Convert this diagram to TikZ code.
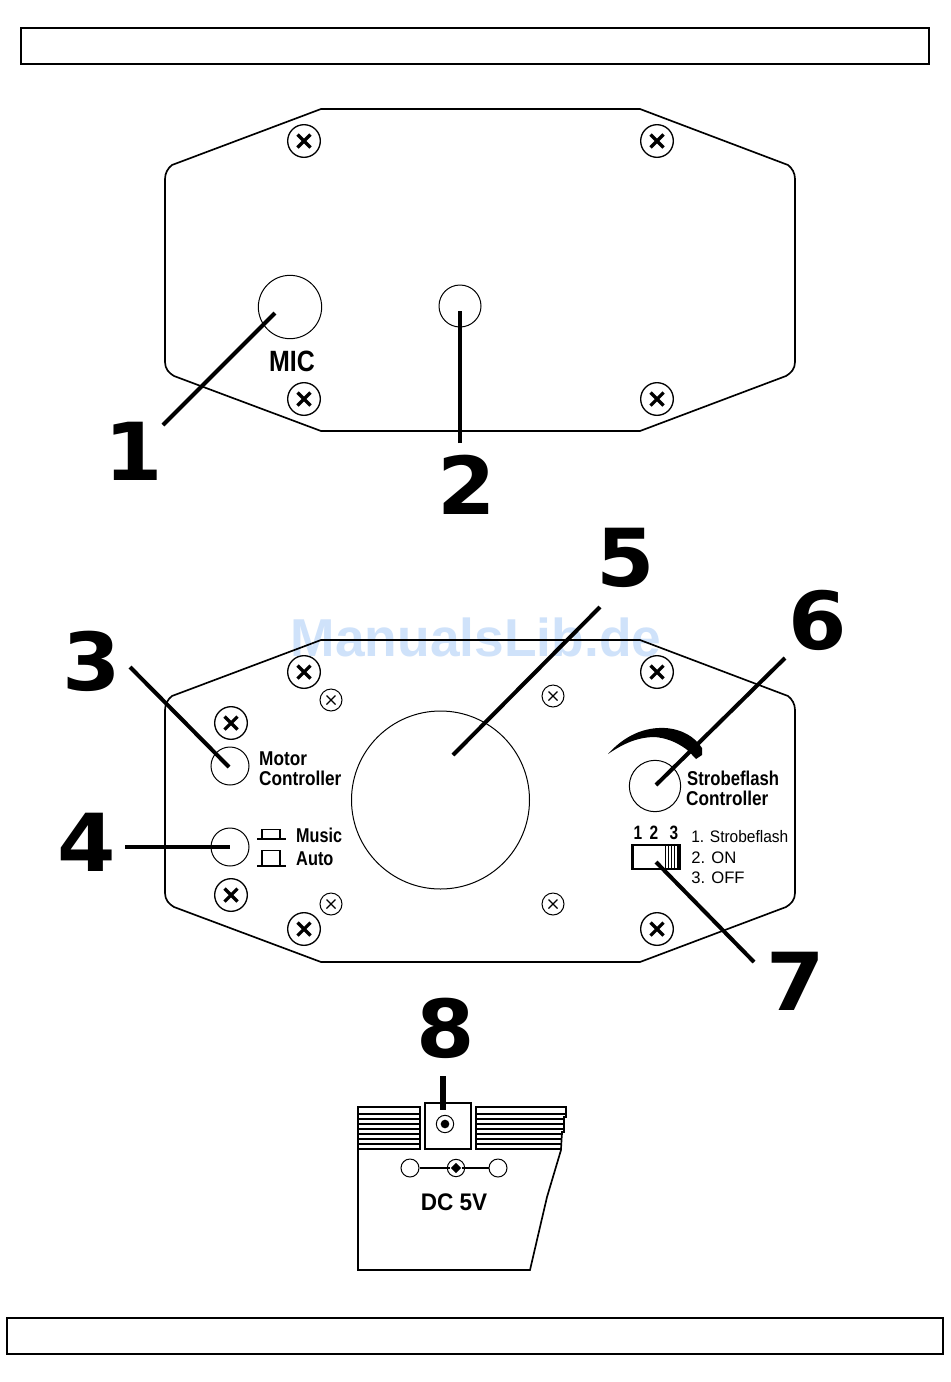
\documentclass[tikz,border=0pt]{standalone}
\usetikzlibrary{shapes.geometric}
\usepackage{fontspec}
\setmainfont{Liberation Sans}
\newfontfamily\numfont{DejaVu Sans}
\definecolor{wmblue}{HTML}{CFE2FA}
\begin{document}
\begin{tikzpicture}[x=0.75pt,y=-0.75pt,
  outline/.style={draw=black,line width=1.25pt},
  leader/.style={draw=black,line width=3pt},
  bignum/.style={font=\numfont\bfseries\fontsize{60}{60}\selectfont,inner sep=0pt,text=black,xscale=1.05},
  lab/.style={inner sep=0pt,anchor=west,text=black},
  blab/.style={lab,font=\fontsize{15}{15}\selectfont\bfseries,xscale=0.86},
  slab/.style={lab,font=\fontsize{12.5}{13}\selectfont},
  port/.style={circle,draw=black,line width=0.75pt,inner sep=0pt,fill=none},
  screwb/.style={circle,draw=black,line width=1pt,inner sep=0pt,minimum size=24.5pt},
  screws/.style={circle,draw=black,line width=0.75pt,inner sep=0pt,minimum size=16.5pt}]
\newcommand{\bigscrew}[3]{%
  \node[screwb] (#1) at (#2,#3) {};
  \draw[line width=2.4pt] (#2-6.5,#3-6.5) -- (#2+6.5,#3+6.5) (#2-6.5,#3+6.5) -- (#2+6.5,#3-6.5);}
\newcommand{\smallscrew}[3]{%
  \node[screws] (#1) at (#2,#3) {};
  \draw[line width=0.9pt] (#2-4.5,#3-4.5) -- (#2+4.5,#3+4.5) (#2-4.5,#3+4.5) -- (#2+4.5,#3-4.5);}
\newcommand{\plate}[1]{%
  \draw[outline] (321,109+#1) -- (640,109+#1) -- (788,165+#1)
    .. controls (792,168+#1) and (795,173+#1) .. (795,179+#1) -- (795,362+#1)
    .. controls (795,369+#1) and (791,373+#1) .. (786,376+#1)
    -- (640,431+#1) -- (321,431+#1) -- (174,376+#1)
    .. controls (169,373+#1) and (165,369+#1) .. (165,362+#1) -- (165,179+#1)
    .. controls (165,173+#1) and (168,168+#1) .. (172,165+#1) -- cycle;}
\useasboundingbox (0,0) rectangle (950,1382);
\fill[white] (0,0) rectangle (950,1382);
% header and footer bars
\node[draw=black,line width=1.3pt,minimum width=680.5pt,minimum height=26.5pt,inner sep=0pt] (header) at (475,46) {};
\node[draw=black,line width=1.3pt,minimum width=702pt,minimum height=26.5pt,inner sep=0pt] (footer) at (475,1336) {};
% upper plate
\plate{0}
\bigscrew{sa}{304}{141}\bigscrew{sb}{657}{141}\bigscrew{sc}{304}{399}\bigscrew{sd}{657}{399}
\node[port,minimum size=47.5pt] (mic) at (290,307) {};
\node[port,minimum size=31.5pt] (jack) at (460,306) {};
\node[inner sep=0pt,font=\fontsize{22}{22}\selectfont\bfseries,xscale=0.85] (miclabel) at (292,361) {MIC};
% watermark
\node[inner sep=0pt,font=\fontsize{40}{40}\selectfont\bfseries,text=wmblue] (wm) at (476,637) {ManualsLib.de};
% lower plate
\plate{531}
\bigscrew{se}{304}{672}\bigscrew{sf}{657}{672}\bigscrew{sg}{231}{723}\bigscrew{sh}{231}{895}
\bigscrew{si}{304}{929}\bigscrew{sj}{657}{929}
\smallscrew{ta}{331}{700}\smallscrew{tb}{553}{696}\smallscrew{tc}{331}{904}\smallscrew{td}{553}{904}
\node[port,minimum size=28.5pt] (motor) at (230,766) {};
\node[port,minimum size=28.5pt] (mode) at (230,847) {};
\node[port,minimum size=133.5pt] (lens) at (440.5,800) {};
\node[port,minimum size=38.5pt] (strobe) at (655,786) {};
\node[blab] (motorl) at (259,759) {Motor};
\node[blab] (ctrll) at (259,778) {Controller};
\node[blab,xscale=0.94] (musicl) at (296,835) {Music};
\node[blab,xscale=0.95] (autol) at (296,859) {Auto};
\node[blab,xscale=0.97] (strl) at (687,778) {Strobeflash};
\node[blab] (ctr2l) at (686,798) {Controller};
% push button symbols
\draw[line width=1.7pt] (257,839) -- (286,839) (257,866) -- (286,866);
\draw[line width=1.3pt] (262,839) -- (262,829.5) -- (280,829.5) -- (280,839);
\draw[line width=1.3pt] (262,866) -- (262,850.5) -- (280,850.5) -- (280,866);
% strobe arc
\fill[black] (608,754) .. controls (625,735) and (645,727) .. (665,728)
  .. controls (682,729) and (695,737) .. (702,748) -- (702,755) -- (696,759)
  .. controls (692,755) and (690,752) .. (686,749)
  .. controls (675,741) and (665,738) .. (655,737)
  .. controls (635,737) and (620,746) .. (608,754) -- cycle;
% switch
\node[draw=black,line width=2.1pt,minimum width=35.5pt,minimum height=18pt,inner sep=0pt] (switch) at (656,857) {};
\foreach \x in {665,668,671,674,677} \draw[line width=0.75pt] (\x,846) -- (\x,868);
\node[inner sep=0pt,font=\fontsize{14.5}{14.5}\selectfont\bfseries,xscale=0.8] (n1) at (638,833) {1};
\node[inner sep=0pt,font=\fontsize{14.5}{14.5}\selectfont\bfseries,xscale=0.8] (n2) at (654,833) {2};
\node[inner sep=0pt,font=\fontsize{14.5}{14.5}\selectfont\bfseries,xscale=0.8] (n3) at (674,833) {3};
\node[slab,xscale=0.93] (o1) at (691,837) {1. Strobeflash};
\node[slab] (o2) at (691,858) {2. ON};
\node[slab] (o3) at (691,878) {3. OFF};
% power section
\draw[outline] (358,1150) -- (358,1270) -- (530,1270)
  -- (540,1227) -- (547,1197) -- (561,1150);
\draw[outline] (358,1107) rectangle (420,1149);
\foreach \y in {1114,1119,1124,1129,1134,1139,1144} \draw[line width=0.8pt] (358,\y) -- (420,\y);
\draw[outline] (476,1107) -- (566,1107) -- (566,1117) -- (564,1117) -- (564,1132) -- (562,1132) -- (561,1149) -- (476,1149) -- cycle;
\foreach \y/\e in {1114/566,1119/565,1124/564,1129/564,1134/563,1139/562,1144/561} \draw[line width=0.8pt] (476,\y) -- (\e,\y);
\node[draw=black,line width=1.1pt,minimum width=34.5pt,minimum height=34.5pt,inner sep=0pt] (socket) at (448,1126) {};
\node[port,minimum size=13pt] (socketr) at (445,1124) {};
\node[circle,fill=black,inner sep=0pt,minimum size=6.5pt] (socketc) at (445,1124) {};
\node[port,minimum size=13.5pt] (pa) at (410,1168) {};
\node[port,minimum size=13.5pt] (pb) at (498,1168) {};
\node[port,minimum size=13pt] (pc) at (456,1168) {};
\node[diamond,fill=black,inner sep=0pt,minimum size=8pt] (pd) at (456,1168) {};
\draw[line width=1.6pt] (pa) -- (pd) -- (pb);
\node[inner sep=0pt,font=\fontsize{18}{18}\selectfont\bfseries,xscale=0.94] (dc) at (454,1202) {DC 5V};
% big numbers
\node[bignum] (one) at (134,451) {1};
\node[bignum] (two) at (467,485) {2};
\node[bignum] (three) at (92,661) {3};
\node[bignum] (four) at (87,842) {4};
\node[bignum] (five) at (626,558) {5};
\node[bignum] (six) at (818,620) {6};
\node[bignum] (seven) at (796,981) {7};
\node[bignum] (eight) at (446,1028) {8};
% leader lines
\coordinate (l1a) at (163,425); \coordinate (l1b) at (275,313);
\coordinate (l2a) at (460,443); \coordinate (l2b) at (460,311);
\coordinate (l3a) at (130,667); \coordinate (l3b) at (229,767);
\coordinate (l4a) at (125,847); \coordinate (l4b) at (230,847);
\coordinate (l5a) at (600,607); \coordinate (l5b) at (453,755);
\coordinate (l6a) at (785,658); \coordinate (l6b) at (656,785);
\coordinate (l7a) at (754,962); \coordinate (l7b) at (656,862);
\coordinate (l8a) at (443,1076); \coordinate (l8b) at (443,1110);
\draw[leader] (l1a) -- (l1b);
\draw[leader] (l2a) -- (l2b);
\draw[leader] (l3a) -- (l3b);
\draw[leader] (l4a) -- (l4b);
\draw[leader] (l5a) -- (l5b);
\draw[leader] (l6a) -- (l6b);
\draw[leader] (l7a) -- (l7b);
\draw[leader,line width=3.8pt] (l8a) -- (l8b);
\end{tikzpicture}
\end{document}
